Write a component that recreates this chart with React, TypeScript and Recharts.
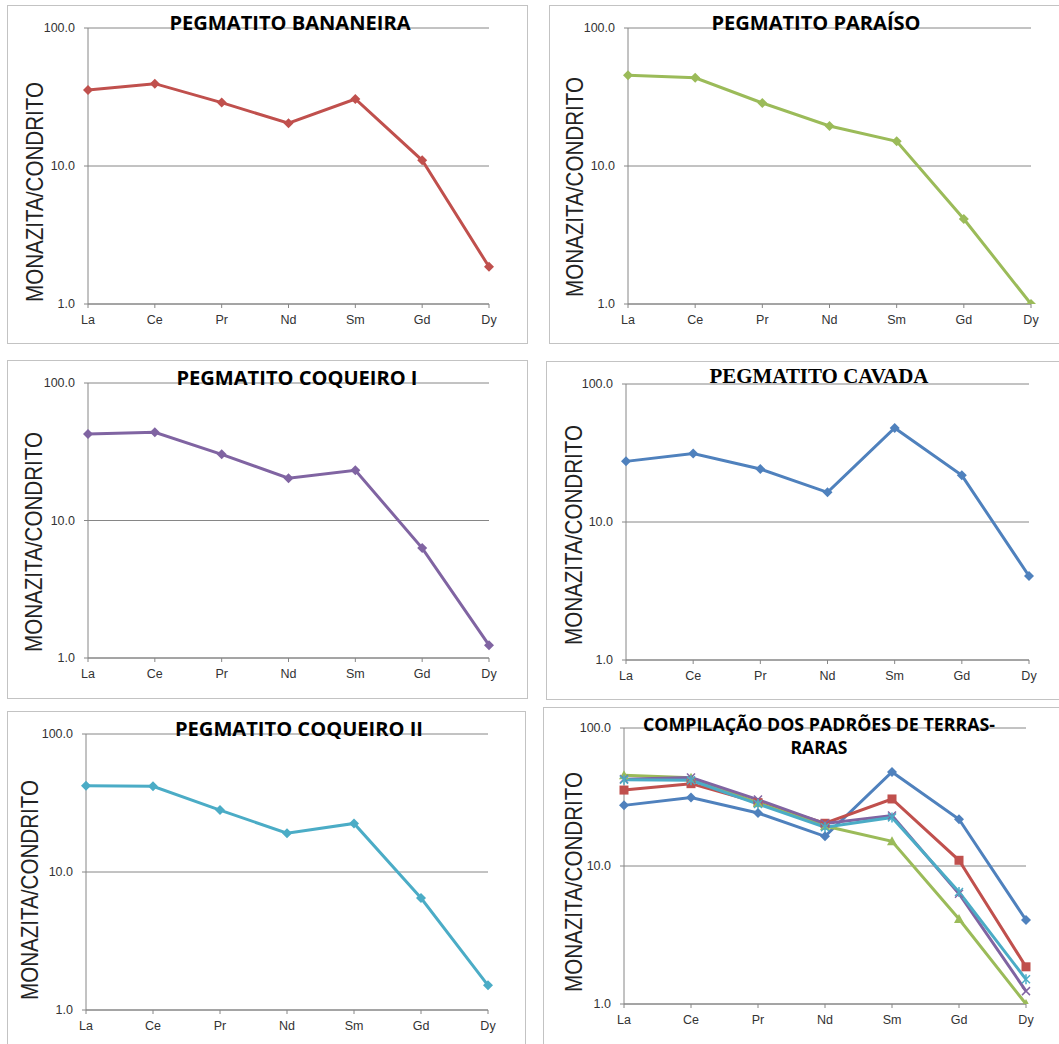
import { LineChart, Line, XAxis, YAxis, CartesianGrid } from 'recharts'

const elements = ['La', 'Ce', 'Pr', 'Nd', 'Sm', 'Gd', 'Dy']
const yTicks = [1, 10, 100]

const cavada = [27.5, 31.3, 24.2, 16.4, 48.0, 21.8, 4.06]
const bananeira = [35.5, 39.5, 28.8, 20.4, 30.6, 11.0, 1.86]
const paraiso = [45.4, 43.6, 28.6, 19.5, 15.1, 4.13, 1.0]
const coqueiroI = [42.6, 43.8, 30.3, 20.3, 23.2, 6.3, 1.24]
const coqueiroII = [42.2, 41.8, 28.1, 19.1, 22.5, 6.48, 1.51]

const rows = elements.map((el, i) => ({
  el,
  cavada: cavada[i],
  bananeira: bananeira[i],
  paraiso: paraiso[i],
  coqueiroI: coqueiroI[i],
  coqueiroII: coqueiroII[i],
}))

const colors: Record<string, string> = {
  cavada: '#4F81BD',
  bananeira: '#C0504D',
  paraiso: '#9BBB59',
  coqueiroI: '#8064A2',
  coqueiroII: '#4BACC6',
}

const shapes: Record<string, string> = {
  cavada: 'diamond',
  bananeira: 'square',
  paraiso: 'triangle',
  coqueiroI: 'x',
  coqueiroII: 'star',
}

const axisGray = '#868686'
const sans = '"Open Sans", "Liberation Sans", Arial, sans-serif'
const tickFont = '"Liberation Sans", Arial, sans-serif'

function marker(shape: string, color: string) {
  return (props: any) => {
    const { cx, cy, index } = props
    if (cx == null || cy == null) return <g key={index} />
    const s = 5
    if (shape === 'diamond')
      return <path key={index} d={`M${cx},${cy - s}L${cx + s},${cy}L${cx},${cy + s}L${cx - s},${cy}Z`} fill={color} />
    if (shape === 'square')
      return <rect key={index} x={cx - 4.5} y={cy - 4.5} width={9} height={9} fill={color} />
    if (shape === 'triangle')
      return <path key={index} d={`M${cx},${cy - 5}L${cx + 5},${cy + 4}L${cx - 5},${cy + 4}Z`} fill={color} />
    return (
      <g key={index} stroke={color} strokeWidth={1.5}>
        <line x1={cx - 4} y1={cy - 4} x2={cx + 4} y2={cy + 4} />
        <line x1={cx - 4} y1={cy + 4} x2={cx + 4} y2={cy - 4} />
        {shape === 'star' && <line x1={cx} y1={cy - 5} x2={cx} y2={cy + 5} />}
      </g>
    )
  }
}

type Box = { l: number; t: number; r: number; b: number }
type PanelSpec = {
  id: string
  title: string[]
  titleX: number
  titleY: number[]
  titleW: number[]
  titleSize: number
  serif?: boolean
  series: string[]
  compile?: boolean
  box: Box
  plot: Box
  labelX: number
  labelY: number
}

const panels: PanelSpec[] = [
  {
    id: 'p1', title: ['PEGMATITO BANANEIRA'], titleX: 290, titleY: [30], titleW: [241], titleSize: 19.5,
    series: ['bananeira'], box: { l: 7, t: 5, r: 528, b: 344 }, plot: { l: 88, t: 28, r: 489, b: 304 },
    labelX: 43, labelY: 192,
  },
  {
    id: 'p2', title: ['PEGMATITO PARAÍSO'], titleX: 816, titleY: [30], titleW: [209], titleSize: 19.5,
    series: ['paraiso'], box: { l: 549, t: 5, r: 1068, b: 344 }, plot: { l: 628, t: 28, r: 1031, b: 304 },
    labelX: 583, labelY: 187,
  },
  {
    id: 'p3', title: ['PEGMATITO COQUEIRO I'], titleX: 297, titleY: [385], titleW: [241], titleSize: 19.5,
    series: ['coqueiroI'], box: { l: 7, t: 360, r: 528, b: 699 }, plot: { l: 88, t: 383, r: 489, b: 658 },
    labelX: 42, labelY: 542,
  },
  {
    id: 'p4', title: ['PEGMATITO CAVADA'], titleX: 819, titleY: [383], titleW: [219], titleSize: 21, serif: true,
    series: ['cavada'], box: { l: 546, t: 361, r: 1068, b: 700 }, plot: { l: 626, t: 384, r: 1029, b: 660 },
    labelX: 582, labelY: 535,
  },
  {
    id: 'p5', title: ['PEGMATITO COQUEIRO II'], titleX: 299, titleY: [736], titleW: [248], titleSize: 19.5,
    series: ['coqueiroII'], box: { l: 7, t: 711, r: 526, b: 1052 }, plot: { l: 86, t: 734, r: 488, b: 1010 },
    labelX: 38, labelY: 890,
  },
  {
    id: 'p6', title: ['COMPILAÇÃO DOS PADRÕES DE TERRAS-', 'RARAS'], titleX: 819, titleY: [731, 754], titleW: [352, 57],
    titleSize: 17.5, series: ['cavada', 'bananeira', 'paraiso', 'coqueiroI', 'coqueiroII'], compile: true,
    box: { l: 543, t: 707, r: 1068, b: 1052 }, plot: { l: 624, t: 728, r: 1026, b: 1004 },
    labelX: 582, labelY: 882,
  },
]

function Panel({ p }: { p: PanelSpec }) {
  const w = p.box.r - p.box.l
  const h = p.box.b - p.box.t
  return (
    <>
      <div
        style={{
          position: 'absolute', left: p.box.l, top: p.box.t, width: w, height: h,
          border: '1.5px solid #c3c3c3', boxSizing: 'border-box', background: '#fff',
        }}
      />
      <div style={{ position: 'absolute', left: p.box.l, top: p.box.t }}>
        <LineChart
          width={w}
          height={h}
          data={rows}
          margin={{ top: p.plot.t - p.box.t, right: p.box.r - p.plot.r, bottom: 0, left: 0 }}
        >
          <CartesianGrid vertical={false} stroke={axisGray} strokeWidth={1} />
          <XAxis
            dataKey="el"
            height={p.box.b - p.plot.b}
            interval={0}
            axisLine={{ stroke: axisGray }}
            tickLine={{ stroke: axisGray }}
            tickSize={4}
            tickMargin={7}
            tick={{ fill: '#333', fontSize: 12.5, fontFamily: tickFont }}
          />
          <YAxis
            type="number"
            scale="log"
            domain={[1, 100]}
            ticks={yTicks}
            allowDataOverflow
            width={p.plot.l - p.box.l}
            axisLine={{ stroke: axisGray }}
            tickLine={{ stroke: axisGray }}
            tickSize={4}
            tickMargin={9}
            tick={{ fill: '#333', fontSize: 12.5, fontFamily: tickFont }}
            tickFormatter={(v: number) => v.toFixed(1)}
          />
          {p.series.map((s) => (
            <Line
              key={s}
              dataKey={s}
              stroke={colors[s]}
              strokeWidth={3}
              dot={marker(p.compile ? shapes[s] : 'diamond', colors[s])}
              activeDot={false}
              isAnimationActive={false}
            />
          ))}
          {p.title.map((line, i) => (
            <text
              key={'t' + i}
              x={p.titleX - p.box.l}
              y={p.titleY[i] - p.box.t}
              textAnchor="middle"
              fontFamily={p.serif ? '"Liberation Serif", "Times New Roman", serif' : sans}
              fontWeight="bold"
              fontSize={p.titleSize}
              fill="#000"
              textLength={p.titleW[i]}
              lengthAdjust="spacingAndGlyphs"
            >
              {line}
            </text>
          ))}
          <text
            x={p.labelX - p.box.l}
            y={p.labelY - p.box.t}
            transform={`rotate(-90, ${p.labelX - p.box.l}, ${p.labelY - p.box.t})`}
            textAnchor="middle"
            fontFamily={tickFont}
            fontSize={24}
            fill="#222"
            textLength={220}
            lengthAdjust="spacingAndGlyphs"
          >
            MONAZITA/CONDRITO
          </text>
        </LineChart>
      </div>
    </>
  )
}

export default function App() {
  return (
    <div
      style={{
        position: 'absolute', left: 0, top: 0, width: 1059, height: 1044,
        overflow: 'hidden', background: '#fff',
      }}
    >
      {panels.map((p) => (
        <Panel key={p.id} p={p} />
      ))}
    </div>
  )
}
